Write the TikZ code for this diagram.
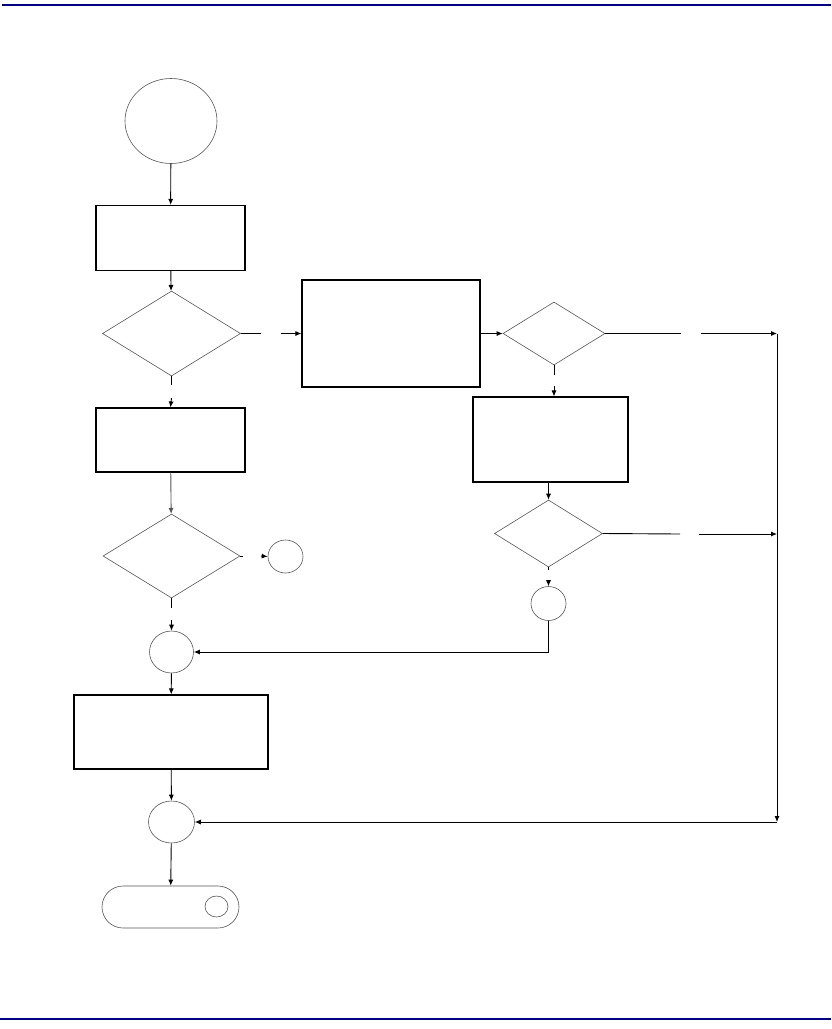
\documentclass[tikz,border=0pt]{standalone}
\usepackage{tikz}
\usetikzlibrary{shapes.geometric, shapes.misc, arrows.meta}
\definecolor{mynavy}{RGB}{0,0,128}
\definecolor{mygray}{RGB}{85,85,85}

\begin{document}
\begin{tikzpicture}[x=1pt, y=-1pt, >={Latex[length=6pt, width=5pt]}, line width=0.9pt,
		kasten/.style={draw, rectangle, line width=1.1pt, inner sep=0pt},
		raute/.style={draw=mygray, diamond, line width=0.6pt, inner sep=0pt},
		kreis/.style={draw=mygray, ellipse, line width=0.6pt, inner sep=0pt},
		ende/.style={draw=mygray, rounded rectangle, line width=0.6pt, inner sep=0pt}]
				%Rahmen
				\useasboundingbox (0,0) rectangle (831,1029);
				\draw[mynavy, line width=2pt] (2,5) -- (831,5);
				\draw[mynavy, line width=2pt] (0,1019) -- (831,1019);
				% Linke Spalte
				\node[kreis, minimum width=92pt, minimum height=85pt] (start) at (171,121) {};
				\node[kasten, minimum width=149pt, minimum height=65pt] (b1) at (170.5,238) {};
				\node[raute, minimum width=138pt, minimum height=85pt] (d1) at (171.5,333.5) {};
				\node[kasten, minimum width=149pt, minimum height=64pt] (b4) at (170.5,440) {};
				\node[raute, minimum width=137pt, minimum height=84pt] (d4) at (171.5,556) {};
				\node[kreis, minimum width=35pt, minimum height=33pt] (c4) at (285.5,556.5) {};
				\node[kreis, minimum width=44pt, minimum height=42pt] (c1) at (171.5,652) {};
				\node[kasten, minimum width=194pt, minimum height=74pt] (b5) at (171,732) {};
				\node[kreis, minimum width=46pt, minimum height=42pt] (c2) at (171.5,822) {};
				\node[ende, minimum width=137pt, minimum height=42pt] (term) at (170.5,907) {};
				\node[kreis, minimum width=23pt, minimum height=21pt] (tc) at (216.5,906.5) {};
				% Rechte Spalte
				\node[kasten, minimum width=178pt, minimum height=107pt] (b2) at (391,333.5) {};
				\node[raute, minimum width=102pt, minimum height=63pt] (d2) at (554,333.5) {};
				\node[kasten, minimum width=155pt, minimum height=85pt] (b3) at (550.5,439.5) {};
				\node[raute, minimum width=108pt, minimum height=67pt] (d3) at (548.5,533.5) {};
				\node[kreis, minimum width=35pt, minimum height=34pt] (c3) at (548.5,603.5) {};
				% Hilfspunkte
				\coordinate (g1a) at (261,333.5); \coordinate (g1b) at (281,333.5);
				\coordinate (g2a) at (681,333.5); \coordinate (g2b) at (701,333.5);
				\coordinate (g3a) at (554,375);   \coordinate (g3b) at (554,386);
				\coordinate (g4a) at (680,534);   \coordinate (g4b) at (699,534);
				\coordinate (g5a) at (548.5,570); \coordinate (g5b) at (548.5,580);
				\coordinate (g6a) at (171.5,385); \coordinate (g6b) at (171.5,398);
				\coordinate (g7a) at (243,556);   \coordinate (g7b) at (261,556);
				\coordinate (g8a) at (171.5,608); \coordinate (g8b) at (171.5,620);
				\coordinate (r1) at (777,333.5);  \coordinate (r2) at (777,822);
				\coordinate (r3) at (777,534);    \coordinate (k1) at (548.5,652);
				% Pfeile links
				\draw[->] (start) -- (b1);
				\draw[->] (b1) -- (d1);
				\draw (d1.east) -- (g1a);
				\draw[->] (g1b) -- (b2.west);
				\draw (d1.south) -- (g6a);
				\draw[->] (g6b) -- (b4.north);
				\draw[->, mygray] (b4) -- (d4);
				\draw (d4.east) -- (g7a);
				\draw[->] (g7b) -- (c4.west);
				\draw (d4.south) -- (g8a);
				\draw[->] (g8b) -- (c1.north);
				\draw[->] (c1) -- (b5);
				\draw[->] (b5) -- (c2);
				\draw[->] (c2) -- (term);
				% Pfeile rechts
				\draw[->] (b2.east) -- (d2.west);
				\draw (d2.east) -- (g2a);
				\draw[->] (g2b) -- (r1);
				\draw (d2.south) -- (g3a);
				\draw[->] (g3b) -- (g3b |- b3.north);
				\draw[->] (d3 |- b3.south) -- (d3.north);
				\draw (d3.east) -- (g4a);
				\draw[->] (g4b) -- (r3);
				\draw (d3.south) -- (g5a);
				\draw[->] (g5b) -- (c3.north);
				\draw[->] (c3.south) -- (k1) -- (c1.east);
				\draw[->] (r1) -- (r2);
				\draw[->] (r2) -- (c2.east);
		\end{tikzpicture}
\end{document}
